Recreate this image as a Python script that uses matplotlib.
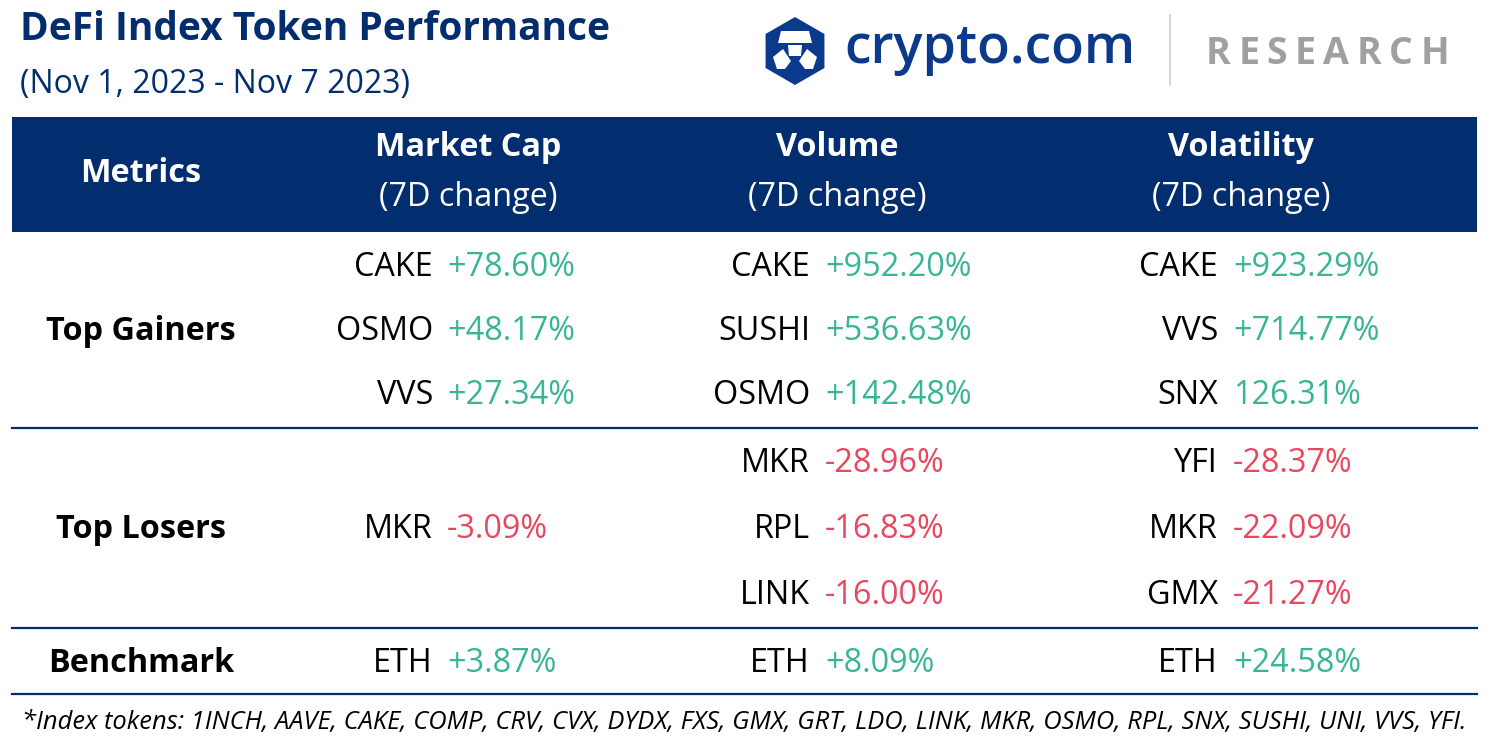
import matplotlib.pyplot as plt
from matplotlib.patches import Rectangle, Polygon
import numpy as np

plt.rcParams['font.family'] = ['Open Sans', 'DejaVu Sans']

NAVY = '#022D6E'
GREEN = '#38B497'
RED = '#E8475F'

# columns of the table
columns = ['Market Cap', 'Volume', 'Volatility']
row_labels = ['Top Gainers', 'Top Losers', 'Benchmark']

# top gainers per column
gain_tokens = [['CAKE', 'OSMO', 'VVS'],
               ['CAKE', 'SUSHI', 'OSMO'],
               ['CAKE', 'VVS', 'SNX']]
gain_values = [['+78.60%', '+48.17%', '+27.34%'],
               ['+952.20%', '+536.63%', '+142.48%'],
               ['+923.29%', '+714.77%', '126.31%']]

# top losers per column
lose_tokens = [['MKR'],
               ['MKR', 'RPL', 'LINK'],
               ['YFI', 'MKR', 'GMX']]
lose_values = [['-3.09%'],
               ['-28.96%', '-16.83%', '-16.00%'],
               ['-28.37%', '-22.09%', '-21.27%']]

# benchmark
bench_tokens = ['ETH', 'ETH', 'ETH']
bench_values = ['+3.87%', '+8.09%', '+24.58%']

index_tokens = ['1INCH', 'AAVE', 'CAKE', 'COMP', 'CRV', 'CVX', 'DYDX', 'FXS', 'GMX', 'GRT',
                'LDO', 'LINK', 'MKR', 'OSMO', 'RPL', 'SNX', 'SUSHI', 'UNI', 'VVS', 'YFI']

FS = 23.3

fig = plt.figure(figsize=(14.9, 7.51), dpi=100)
ax = fig.add_axes([0, 0, 1, 1])
ax.set_xlim(0, 1490)
ax.set_ylim(751, 0)
ax.axis('off')

# titles
ax.text(20, 29, 'DeFi Index Token Performance', fontsize=28, fontweight='bold',
        color=NAVY, ha='left', va='center')
ax.text(20, 84, '(Nov 1, 2023 - Nov 7 2023)', fontsize=23, color=NAVY,
        ha='left', va='center')

# logo
cx, cy, r = 795, 51, 34
ang = np.radians(np.arange(90, 450, 60))
ax.add_patch(Polygon(np.c_[cx + r * np.cos(ang), cy - r * np.sin(ang)], closed=True,
                     fc='#0B3A8C', ec='none'))
ax.add_patch(Polygon([(cx - 14, cy - 20), (cx + 14, cy - 20), (cx + 17, cy - 8), (cx - 17, cy - 8)],
                     closed=True, fc='white', ec='none'))
ax.add_patch(Polygon([(cx - 7, cy - 6), (cx + 7, cy - 6), (cx + 6, cy + 5), (cx - 6, cy + 5)],
                     closed=True, fc='white', ec='none'))
ax.add_patch(Polygon([(cx - 22, cy + 6), (cx - 12, cy - 2), (cx - 4, cy + 10), (cx - 10, cy + 18), (cx - 18, cy + 18)],
                     closed=True, fc='white', ec='none'))
ax.add_patch(Polygon([(cx + 22, cy + 6), (cx + 12, cy - 2), (cx + 4, cy + 10), (cx + 10, cy + 18), (cx + 18, cy + 18)],
                     closed=True, fc='white', ec='none'))

fig.canvas.draw()
renderer = fig.canvas.get_renderer()

# crypto.com word mark, sized to its width in the picture
logo = ax.text(844, 63, 'crypto.com', fontsize=40, fontweight='semibold', color='#0B3A8C',
               ha='left', va='baseline')
w = logo.get_window_extent(renderer).width
logo.set_fontsize(40 * 291 / w)
ax.plot([1170, 1170], [15, 85], color='#CCCCCC', lw=1.2)

# RESEARCH with letter spacing
letters = []
x = 1206
for ch in 'RESEARCH':
    t = ax.text(x, 64, ch, fontsize=27, fontweight='bold', color='#A0A0A0',
                ha='left', va='baseline')
    letters.append(t)
    x += t.get_window_extent(renderer).width
gap = (1449 - x) / 7
for i, t in enumerate(letters):
    t.set_x(t.get_position()[0] + gap * i)

# header band
ax.add_patch(Rectangle((12, 117), 1465, 115, fc=NAVY, ec='none'))
ax.text(141, 173, 'Metrics', fontsize=FS, fontweight='bold', color='white', ha='center', va='center')
col_centers = [468, 837, 1241]
tok_right = [433, 810, 1218]
val_left = [447, 825, 1233]
for c, name in enumerate(columns):
    ax.text(col_centers[c], 148, name, fontsize=FS, fontweight='bold', color='white',
            ha='center', va='center')
    ax.text(col_centers[c], 198, '(7D change)', fontsize=FS, color='white',
            ha='center', va='center')

# body
gain_y = [267, 331, 395]
lose_y = [463, 529, 596]
bench_y = 663
ax.text(141, gain_y[1], row_labels[0], fontsize=FS, fontweight='bold', ha='center', va='center')
ax.text(141, lose_y[1], row_labels[1], fontsize=FS, fontweight='bold', ha='center', va='center')
ax.text(141, bench_y, row_labels[2], fontsize=FS, fontweight='bold', ha='center', va='center')


def cell(c, y, tok, val, color):
    ax.text(tok_right[c], y, tok, fontsize=FS, color='black', ha='right', va='center')
    ax.text(val_left[c], y, val, fontsize=FS, color=color, ha='left', va='center')


for c in range(3):
    for tok, val, y in zip(gain_tokens[c], gain_values[c], gain_y):
        cell(c, y, tok, val, GREEN)
    ys = [lose_y[1]] if len(lose_tokens[c]) == 1 else lose_y
    for tok, val, y in zip(lose_tokens[c], lose_values[c], ys):
        cell(c, y, tok, val, RED)
    cell(c, bench_y, bench_tokens[c], bench_values[c], GREEN)

for y in [428, 628, 694]:
    ax.plot([12, 1477], [y, y], color=NAVY, lw=1.6)

ax.text(22, 723, '*Index tokens: ' + ', '.join(index_tokens) + '.', fontsize=18.4,
        style='italic', color='black', ha='left', va='center')

fig.savefig('out.png', dpi=100)
